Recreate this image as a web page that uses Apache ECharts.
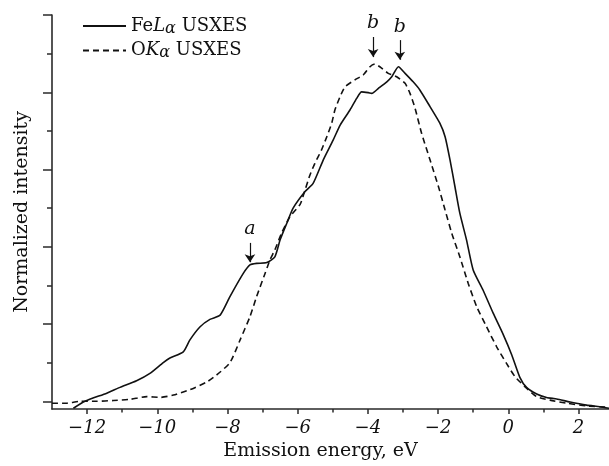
<!DOCTYPE html>
<html>
<head>
<meta charset="utf-8">
<script src="https://cdn.jsdelivr.net/npm/echarts@6/dist/echarts.min.js"></script>
<style>html,body{margin:0;padding:0;background:#fff;}#c{width:609px;height:466px;}</style>
</head>
<body>
<div id="c"></div>
<script>
// FeLα USXES (solid)
const feX = [-12.39,-12.06,-11.44,-11.06,-10.59,-10.21,-9.83,-9.64,-9.26,-9.07,-8.78,-8.5,-8.21,-7.93,-7.55,-7.36,-7.17,-6.88,-6.65,-6.5,-6.31,-6.13,-5.79,-5.56,-5.27,-4.99,-4.79,-4.51,-4.32,-4.18,-3.99,-3.89,-3.7,-3.46,-3.32,-3.13,-2.94,-2.71,-2.52,-2.23,-1.95,-1.8,-1.66,-1.52,-1.38,-1.19,-1.0,-0.72,-0.43,-0.14,0.1,0.33,0.52,0.81,1.09,1.38,1.76,2.23,2.61,2.87];
const feY = [-0.18,0.0,0.21,0.36,0.53,0.72,1.0,1.12,1.28,1.59,1.93,2.12,2.23,2.71,3.31,3.53,3.57,3.59,3.74,4.18,4.61,5.0,5.43,5.64,6.25,6.76,7.15,7.54,7.84,8.01,7.99,7.97,8.1,8.27,8.4,8.66,8.49,8.27,8.06,7.63,7.2,6.85,6.25,5.56,4.87,4.18,3.4,2.88,2.28,1.72,1.2,0.62,0.36,0.19,0.1,0.06,-0.02,-0.1,-0.14,-0.18];
// OKα USXES (dashed)
const oX = [-13.0,-12.58,-12.2,-11.73,-11.25,-10.78,-10.3,-9.92,-9.54,-9.07,-8.59,-8.31,-7.93,-7.64,-7.36,-7.17,-6.93,-6.79,-6.65,-6.46,-6.22,-5.93,-5.79,-5.65,-5.51,-5.32,-5.17,-5.03,-4.94,-4.79,-4.65,-4.37,-4.13,-3.94,-3.8,-3.66,-3.42,-3.18,-2.94,-2.8,-2.66,-2.47,-2.23,-1.99,-1.8,-1.61,-1.38,-1.14,-0.9,-0.62,-0.33,-0.05,0.19,0.52,0.81,1.19,1.66,2.23,2.8];
const oY = [-0.05,-0.05,0.0,0.0,0.02,0.05,0.12,0.1,0.16,0.3,0.5,0.68,1.0,1.59,2.19,2.71,3.31,3.66,3.92,4.35,4.78,5.1,5.47,5.86,6.16,6.51,6.85,7.2,7.54,7.89,8.14,8.32,8.45,8.66,8.73,8.66,8.49,8.4,8.23,7.97,7.6,6.94,6.25,5.56,4.95,4.35,3.74,3.05,2.45,1.93,1.41,0.98,0.64,0.34,0.12,0.03,-0.05,-0.12,-0.15];
// x tick labels (major) and minor ticks
const xMajor = [-12,-10,-8,-6,-4,-2,0,2];
const xMinor = [-11,-9,-7,-5,-3,-1,1];
const yMajor = [0,2,4,6,8,10];
const yMinor = [1,3,5,7,9];
// annotations (arrows)
const annotX = [-7.36,-3.85,-3.09];
const annotTop = [4.1,9.43,9.35];
const annotTip = [3.6,8.91,8.84];
const annotText = ['a','b','b'];

const SERIF = '"DejaVu Serif", serif';
const names = ['FeLα USXES','OKα USXES'];
const pair = (xs, ys) => xs.map((x,i)=>[x, ys[i]]);
const XMIN = -13, XMAX = 2.87, YMIN = -0.2, YMAX = 10;
const axisCol = '#2a2a2a';

const chart = echarts.init(document.getElementById('c'), null, {renderer:'canvas'});
const baseX = {type:'value', min:XMIN, max:XMAX, position:'bottom', splitLine:{show:false}};
const baseY = {type:'value', min:YMIN, max:YMAX, position:'left', splitLine:{show:false}};
chart.setOption({
  animation:false,
  backgroundColor:'#fff',
  grid:{left:52, right:0, top:15, bottom:57},
  legend:{
    orient:'vertical', left:82, top:16, padding:0, itemWidth:43, itemHeight:14, itemGap:4,
    data:names,
    itemStyle:{opacity:0, borderWidth:0},
    formatter:function(n){
      if(n===names[0]) return '{r|Fe}{i|L}{g|α}{r| USXES}';
      return '{r|O}{i|K}{g|α}{r| USXES}';
    },
    textStyle:{
      lineHeight:20,
      rich:{
        r:{fontFamily:SERIF, fontSize:18, color:'#111'},
        i:{fontFamily:SERIF, fontSize:18, fontStyle:'italic', color:'#111'},
        g:{fontFamily:SERIF, fontSize:16, fontStyle:'italic', color:'#111', padding:[5,0,0,0]}
      }
    }
  },
  xAxis:[
    Object.assign({}, baseX, {
      name:'Emission energy, eV', nameLocation:'middle', nameGap:31,
      nameTextStyle:{fontFamily:SERIF, fontSize:19, color:'#111', padding:[0,20,0,0]},
      axisLine:{show:true, onZero:false, lineStyle:{color:axisCol, width:1.6}},
      axisTick:{show:true, length:5, customValues:xMajor, lineStyle:{color:axisCol, width:1.5}},
      axisLabel:{show:true, customValues:xMajor, margin:10, fontFamily:SERIF, fontStyle:'italic', fontSize:18, color:'#111',
        formatter:v=> v<0 ? '\u2212'+Math.abs(v) : String(v)}
    }),
    Object.assign({}, baseX, {
      axisLine:{show:false, onZero:false},
      axisTick:{show:true, length:3.5, customValues:xMinor, lineStyle:{color:axisCol, width:1.5}},
      axisLabel:{show:false}
    })
  ],
  yAxis:[
    Object.assign({}, baseY, {
      name:'Normalized intensity', nameLocation:'middle', nameGap:20,
      nameTextStyle:{fontFamily:SERIF, fontSize:19, color:'#111'},
      axisLine:{show:true, onZero:false, lineStyle:{color:axisCol, width:1.6}},
      axisTick:{show:true, length:9, customValues:yMajor, lineStyle:{color:axisCol, width:1.5}},
      axisLabel:{show:false}
    }),
    Object.assign({}, baseY, {
      axisLine:{show:false, onZero:false},
      axisTick:{show:true, length:5, customValues:yMinor, lineStyle:{color:axisCol, width:1.5}},
      axisLabel:{show:false}
    })
  ],
  series:[
    {
      name:names[0], type:'line', data:pair(feX, feY), smooth:0.2, symbol:'none',
      lineStyle:{color:'#111', width:1.6, type:'solid'}, itemStyle:{color:'#111'},
      markLine:{
        silent:true, symbol:['none','arrow'], symbolSize:8,
        lineStyle:{color:'#111', width:1.2, type:'solid'},
        label:{show:true, position:'start', distance:4, fontFamily:SERIF, fontStyle:'italic', fontSize:19, color:'#111',
          formatter:p=>p.name},
        data: annotX.map((x,i)=>[{name:annotText[i], coord:[x, annotTop[i]]},{coord:[x, annotTip[i]]}])
      }
    },
    {
      name:names[1], type:'line', data:pair(oX, oY), smooth:0.2, symbol:'none',
      lineStyle:{color:'#111', width:1.6, type:[6,4]}, itemStyle:{color:'#111'}
    }
  ]
});
</script>
</body>
</html>
